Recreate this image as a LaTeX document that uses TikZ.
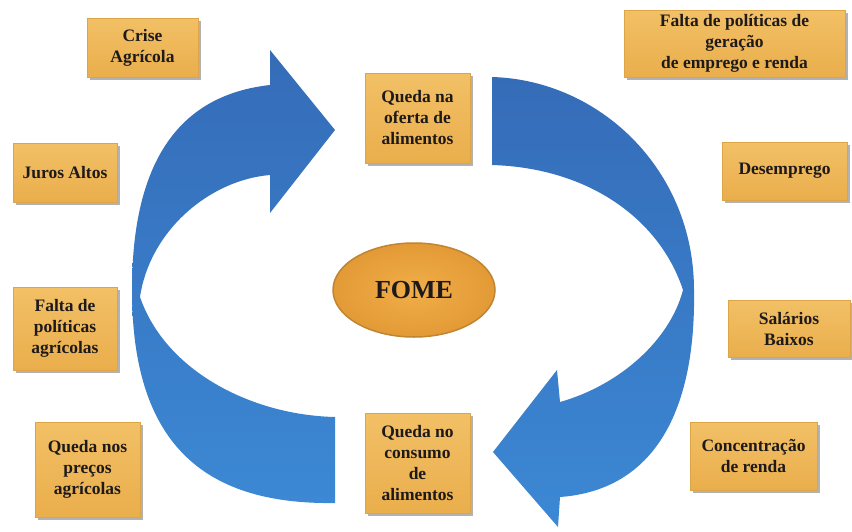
\documentclass[tikz,border=0pt]{standalone}
\usepackage{fontspec}
\setmainfont{Liberation Serif}
\usetikzlibrary{shapes.geometric,shadows}
\definecolor{boxtop}{HTML}{F2C066}
\definecolor{boxbot}{HTML}{EAAE4C}
\definecolor{boxedge}{HTML}{DCA548}
\definecolor{txt}{HTML}{1E1A1B}
\definecolor{ellin}{HTML}{F0AE48}
\definecolor{ellout}{HTML}{E39A36}
\definecolor{elledge}{HTML}{BF8531}
\definecolor{blueA}{HTML}{356CB8}
\definecolor{blueB}{HTML}{3C88D4}
\begin{document}
\begin{tikzpicture}[x=1pt,y=-1pt,
  box/.style={rectangle, top color=boxtop, bottom color=boxbot, draw=boxedge, line width=0.5pt,
    drop shadow={shadow xshift=2.5pt, shadow yshift=-2.5pt, fill=black, opacity=0.3},
    font=\bfseries\fontsize{17.5}{21}\selectfont, text=txt, align=center, inner sep=0pt},
  fome/.style={ellipse, inner color=ellin, outer color=ellout, draw=elledge, line width=1.5pt,
    minimum width=162pt, minimum height=94pt, inner sep=0pt,
    font=\bfseries\fontsize{26}{30}\selectfont, text=txt},
  band/.style={top color=blueA, bottom color=blueB}
]
\useasboundingbox (0,0) rectangle (852,531);
\fill[white] (0,0) rectangle (852,531);

% left circular arrow
\shade[band] (335,503)
  .. controls (200,505) and (132,440) .. (132,290)
  .. controls (132,160) and (180,95) .. (270,85)
  -- (270,50) -- (335,130) -- (270,213) -- (270,175)
  .. controls (210,180) and (150,230) .. (140,297)
  .. controls (165,370) and (250,415) .. (335,417) -- cycle;

% right circular arrow
\shade[band] (492,77)
  .. controls (600,80) and (694,170) .. (694,290)
  .. controls (696,410) and (655,490) .. (560,497)
  -- (558,527) -- (493,452) -- (557,370) -- (560,402)
  .. controls (620,385) and (670,340) .. (683,290)
  .. controls (660,220) and (590,168) .. (492,165) -- cycle;

% boxes
\node[box, minimum width=111pt, minimum height=59pt] (crise) at (142.5,47.5) {Crise\\Agrícola};
\node[box, minimum width=104pt, minimum height=59pt] (juros) at (65,172.5) {Juros Altos};
\node[box, minimum width=104pt, minimum height=83pt] (faltaagr) at (65,328.5) {Falta de\\políticas\\agrícolas};
\node[box, minimum width=105pt, minimum height=95pt] (precos) at (87.5,469.5) {Queda nos\\preços\\agrícolas};
\node[box, minimum width=105pt, minimum height=90pt] (oferta) at (417.5,118) {Queda na\\oferta de\\alimentos};
\node[box, minimum width=105pt, minimum height=100pt] (consumo) at (417.5,463) {Queda no\\consumo\\de\\alimentos};
\node[box, minimum width=221pt, minimum height=67pt] (faltaemp) at (734.5,43.5) {Falta de políticas de\\geração\\de emprego e renda};
\node[box, minimum width=125pt, minimum height=58pt] (desemp) at (784.5,171) {Desemprego};
\node[box, minimum width=122pt, minimum height=57pt] (salarios) at (789,328.5) {Salários\\Baixos};
\node[box, minimum width=127pt, minimum height=68pt] (concent) at (753.5,456) {Concentração\\de renda};

% centre
\node[fome] (fomenode) at (414,290) {FOME};
\end{tikzpicture}
\end{document}
